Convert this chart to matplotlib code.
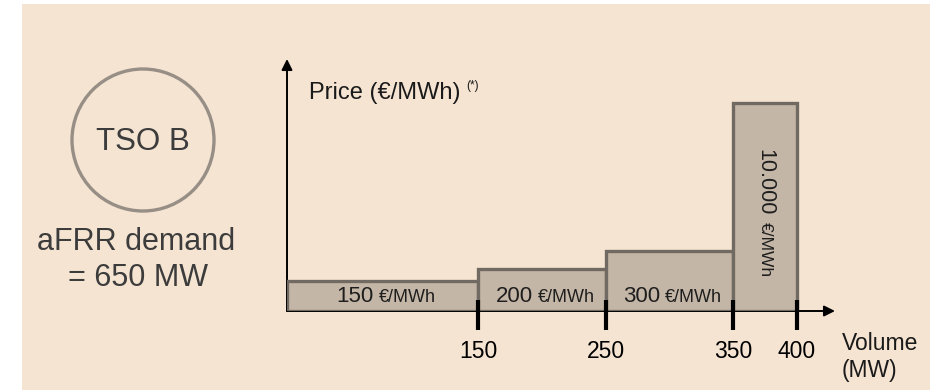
import matplotlib
matplotlib.use('Agg')
from matplotlib import pyplot as plt
from matplotlib import patches, transforms

plt.rcParams['font.family'] = ['Liberation Sans', 'DejaVu Sans']

# merit order of the offers
volumes = [150, 100, 100, 50]          # MW per offer
prices = [150, 200, 300, 10000]        # EUR/MWh
price_labels = ['150', '200', '300', '10.000']
tick_values = [150, 250, 350, 400]
tick_labels = ['150', '250', '350', '400']

BG = '#f5e4d2'
FILL = '#c4b6a6'
EDGE = '#716a62'
RING = '#978f86'

W, H = 930, 390
fig = plt.figure(figsize=(W / 100, H / 100), dpi=100, facecolor='white')

# pixel overlay for background, circle and free text
bg = fig.add_axes([0, 0, 1, 1], zorder=0)
bg.set_xlim(0, W)
bg.set_ylim(H, 0)
bg.axis('off')
bg.add_patch(patches.Rectangle((22, 4), W - 22, H - 4, color=BG, lw=0))
bg.add_patch(patches.Circle((143, 140), 71, fill=False, ec=RING, lw=2.4))
bg.text(143, 142, 'TSO B', fontsize=22.5, color='#3c3c3c', ha='center', va='center')
bg.text(136, 242, 'aFRR demand', fontsize=22, color='#3c3c3c', ha='center', va='center')
bg.text(138, 278, '= 650 MW', fontsize=22, color='#3c3c3c', ha='center', va='center')
bg.text(309, 93, 'Price (€/MWh)', fontsize=17, color='#1a1a1a', ha='left', va='center')
bg.text(466, 86, '(*)', fontsize=8.5, color='#1a1a1a', ha='left', va='center')
bg.text(842, 357, 'Volume\n(MW)', fontsize=16.5, color='#1a1a1a', ha='left', va='center',
        linespacing=1.25)

# stepped supply curve, log price axis so the 10.000 offer fits
left, bottom, right, top = 287, 311, 835, 59
ax = fig.add_axes([left / W, 1 - bottom / H, (right - left) / W, (bottom - top) / H],
                  zorder=1)
ax.set_facecolor('none')
ybase = 73.4
ax.set_yscale('log')
ax.set_xlim(0, 430)
ax.set_ylim(ybase, 28100)
ax.axis('off')

edges = [sum(volumes[:i]) for i in range(len(volumes))]
heights = [p - ybase for p in prices]
ax.bar(edges, heights, width=volumes, bottom=ybase, align='edge',
       color=FILL, edgecolor=EDGE, linewidth=2.4, zorder=3)

# axes with arrow heads
arrow = dict(arrowstyle='-|>', mutation_scale=16, lw=1.4, color='black',
             shrinkA=0, shrinkB=0)
ax.annotate('', xy=(1, 0), xytext=(0, 0), xycoords='axes fraction', arrowprops=arrow,
            zorder=2)
ax.annotate('', xy=(0, 1), xytext=(0, 0), xycoords='axes fraction', arrowprops=arrow,
            zorder=2)

xt = ax.get_xaxis_transform()
ax.vlines(tick_values, -19 / 252, 11 / 252, transform=xt, color='black', lw=3,
          zorder=4, clip_on=False)
for v, lab in zip(tick_values, tick_labels):
    ax.text(v, -40 / 252, lab, transform=xt, fontsize=16.5, ha='center', va='center')

# offer labels, number larger than the unit
for x0, w, lab in zip(edges[:3], volumes[:3], price_labels[:3]):
    xc = x0 + w / 2
    num_tr = transforms.offset_copy(xt, fig=fig, x=-9, y=0, units='dots')
    unit_tr = transforms.offset_copy(xt, fig=fig, x=-4, y=0, units='dots')
    ax.text(xc, 14 / 252, lab, transform=num_tr, fontsize=16, color='#1e1e1e',
            ha='right', va='center', zorder=5)
    ax.text(xc, 13 / 252, '€/MWh', transform=unit_tr, fontsize=13, color='#1e1e1e',
            ha='left', va='center', zorder=5)

xc = edges[3] + volumes[3] / 2
num_tr = transforms.offset_copy(xt, fig=fig, x=0, y=2, units='dots')
unit_tr = transforms.offset_copy(xt, fig=fig, x=0, y=-5, units='dots')
ax.text(xc, 94 / 252, price_labels[3], transform=num_tr, fontsize=15.5, rotation=-90,
        color='#1e1e1e', ha='center', va='bottom', zorder=5)
ax.text(xc, 94 / 252, '€/MWh', transform=unit_tr, fontsize=12.5, rotation=-90,
        color='#1e1e1e', ha='center', va='top', zorder=5)

fig.savefig('out.png', dpi=100, facecolor=fig.get_facecolor())
